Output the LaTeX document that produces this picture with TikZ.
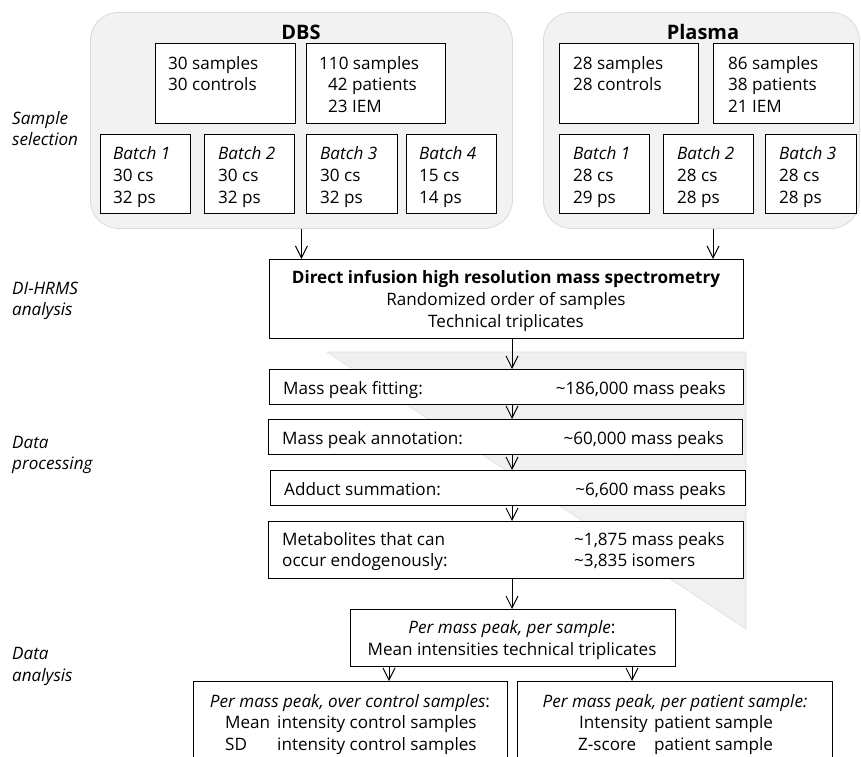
\documentclass[tikz,border=0pt]{standalone}
\usepackage{fontspec}
\setmainfont{Open Sans}
\usetikzlibrary{arrows.meta}
\definecolor{panelfill}{HTML}{F2F2F2}
\definecolor{paneldraw}{HTML}{DADADA}
\definecolor{funnelfill}{HTML}{F0F0F0}
\definecolor{funneldraw}{HTML}{DEDEDE}
\tikzset{
 box/.style={draw=black, line width=1pt, fill=white, inner sep=0pt, anchor=north west},
 panel/.style={draw=paneldraw, fill=panelfill, line width=0.8pt, rounded corners=28pt, inner sep=0pt, anchor=north west},
 txt/.style={inner sep=0pt, anchor=base west, font=\fontsize{17.1}{21.7}\selectfont},
 itxt/.style={txt, font=\fontsize{17.1}{21.7}\selectfont\itshape},
 ctxt/.style={txt, anchor=base},
 rtxt/.style={txt, anchor=base east},
 ttl/.style={inner sep=0pt, anchor=base, font=\fontsize{20}{24}\selectfont\bfseries},
 arr/.style={draw=black, line width=1pt, -{Straight Barb[length=12pt,width=12pt]}},
}
\begin{document}
\begin{tikzpicture}[x=1pt,y=-1pt]
\useasboundingbox (0,0) rectangle (861,756);
% panels
\node[panel, minimum width=422pt, minimum height=216pt] (dbs) at (90,12) {};
\node[panel, minimum width=316pt, minimum height=216pt] (plasma) at (543,12) {};
\node[ttl] (dbst) at (301,39) {DBS};
\node[ttl] (plat) at (703,39) {Plasma};
% DBS boxes
\node[box, minimum width=140pt, minimum height=80pt] (ba) at (155,43) {};
\node[box, minimum width=139pt, minimum height=80pt] (bb) at (306,43) {};
\node[txt] (ba1) at (168,69) {30 samples};
\node[txt] (ba2) at (168,90.5) {30 controls};
\node[txt] (bb1) at (319,69) {110 samples};
\node[txt] (bb2) at (328,90.5) {42 patients};
\node[txt] (bb3) at (328,112) {23 IEM};
\node[box, minimum width=90pt, minimum height=79pt] (d1) at (100,134) {};
\node[box, minimum width=90pt, minimum height=79pt] (d2) at (204,134) {};
\node[box, minimum width=91pt, minimum height=79pt] (d3) at (306,134) {};
\node[box, minimum width=90pt, minimum height=79pt] (d4) at (406,134) {};
\node[itxt] (d1a) at (113,159.5) {Batch 1};
\node[txt] (d1b) at (113,181.5) {30 cs};
\node[txt] (d1c) at (113,203) {32 ps};
\node[itxt] (d2a) at (218,159.5) {Batch 2};
\node[txt] (d2b) at (218,181.5) {30 cs};
\node[txt] (d2c) at (218,203) {32 ps};
\node[itxt] (d3a) at (320,159.5) {Batch 3};
\node[txt] (d3b) at (320,181.5) {30 cs};
\node[txt] (d3c) at (320,203) {32 ps};
\node[itxt] (d4a) at (419,159.5) {Batch 4};
\node[txt] (d4b) at (419,181.5) {15 cs};
\node[txt] (d4c) at (419,203) {14 ps};
% Plasma boxes
\node[box, minimum width=139pt, minimum height=80pt] (pc) at (559,43) {};
\node[box, minimum width=140pt, minimum height=80pt] (pd) at (713,43) {};
\node[txt] (pc1) at (573,69) {28 samples};
\node[txt] (pc2) at (573,90.5) {28 controls};
\node[txt] (pd1) at (728,69) {86 samples};
\node[txt] (pd2) at (728,90.5) {38 patients};
\node[txt] (pd3) at (728,112) {21 IEM};
\node[box, minimum width=90pt, minimum height=79pt] (p1) at (559,134) {};
\node[box, minimum width=90pt, minimum height=79pt] (p2) at (663,134) {};
\node[box, minimum width=91pt, minimum height=79pt] (p3) at (765,134) {};
\node[itxt] (p1a) at (573,159.5) {Batch 1};
\node[txt] (p1b) at (573,181.5) {28 cs};
\node[txt] (p1c) at (573,203) {29 ps};
\node[itxt] (p2a) at (677,159.5) {Batch 2};
\node[txt] (p2b) at (677,181.5) {28 cs};
\node[txt] (p2c) at (677,203) {28 ps};
\node[itxt] (p3a) at (779,159.5) {Batch 3};
\node[txt] (p3b) at (779,181.5) {28 cs};
\node[txt] (p3c) at (779,203) {28 ps};
% left labels
\node[itxt] (l1a) at (12,124) {Sample};
\node[itxt] (l1b) at (12,145) {selection};
\node[itxt] (l2a) at (12,294) {DI-HRMS};
\node[itxt] (l2b) at (12,315) {analysis};
\node[itxt] (l3a) at (12,448) {Data};
\node[itxt] (l3b) at (12,469) {processing};
\node[itxt] (l4a) at (12,659) {Data};
\node[itxt] (l4b) at (12,681) {analysis};
% funnel
\path[fill=funnelfill, draw=funneldraw, line width=0.6pt] (327,352) -- (746,352) -- (746,629) -- cycle;
% DI-HRMS
\node[box, minimum width=474pt, minimum height=79pt] (di) at (269,259) {};
\node[ctxt, font=\fontsize{17.1}{21.7}\selectfont\bfseries] (di1) at (506,283) {Direct infusion high resolution mass spectrometry};
\node[ctxt] (di2) at (506,305) {Randomized order of samples};
\node[ctxt] (di3) at (506,327) {Technical triplicates};
% processing boxes
\node[box, minimum width=474pt, minimum height=35pt] (fit) at (269,369) {};
\node[txt] (fit1) at (283,394) {Mass peak fitting:};
\node[rtxt] (fit2) at (726,394) {\textasciitilde186,000 mass peaks};
\node[box, minimum width=474pt, minimum height=35pt] (ann) at (268,419) {};
\node[txt] (ann1) at (282,444) {Mass peak annotation:};
\node[rtxt] (ann2) at (724,444) {\textasciitilde60,000 mass peaks};
\node[box, minimum width=475pt, minimum height=35pt] (add) at (270,470) {};
\node[txt] (add1) at (284,495) {Adduct summation:};
\node[rtxt] (add2) at (726,495) {\textasciitilde6,600 mass peaks};
\node[box, minimum width=475pt, minimum height=57pt] (met) at (268,521) {};
\node[txt] (met1) at (282,545) {Metabolites that can};
\node[txt] (met2) at (282,566) {occur endogenously:};
\node[txt] (met3) at (574,545) {\textasciitilde1,875 mass peaks};
\node[txt] (met4) at (574,566) {\textasciitilde3,835 isomers};
% analysis boxes
\node[box, minimum width=325pt, minimum height=57pt] (pm) at (350,609) {};
\node[ctxt] (pm1) at (512,633) {\textit{Per mass peak, per sample}:};
\node[ctxt] (pm2) at (512,655) {Mean intensities technical triplicates};
\node[box, minimum width=314pt, minimum height=90pt] (bl) at (193,681) {};
\node[ctxt] (bl1) at (350,707) {\textit{Per mass peak, over control samples}:};
\node[txt] (bl2) at (225,728.5) {Mean};
\node[txt] (bl3) at (277,728.5) {intensity control samples};
\node[txt] (bl4) at (225,750) {SD};
\node[txt] (bl5) at (277,750) {intensity control samples};
\node[box, minimum width=315pt, minimum height=90pt] (br) at (517,681) {};
\node[ctxt] (br1) at (675,707) {\textit{Per mass peak, per patient sample:}};
\node[txt] (br2) at (579,728.5) {Intensity};
\node[txt] (br3) at (654,728.5) {patient sample};
\node[txt] (br4) at (578,750) {Z-score};
\node[txt] (br5) at (654,750) {patient sample};
% connectors
\coordinate (pa) at (713,228);
\coordinate (cx) at (512,0);
\coordinate (lx) at (389,0);
\coordinate (rx) at (632,0);
\draw[arr] (dbs.south) -- (dbs.south |- di.north);
\draw[arr] (plasma.south -| pa) -- (pa |- di.north);
\draw[arr] (di.south -| cx) -- (fit.north -| cx);
\draw[arr] (fit.south -| cx) -- (ann.north -| cx);
\draw[arr] (ann.south -| cx) -- (add.north -| cx);
\draw[arr] (add.south -| cx) -- (met.north -| cx);
\draw[arr] (met.south -| cx) -- (pm.north -| cx);
\draw[arr] (pm.south -| lx) -- (bl.north -| lx);
\draw[arr] (pm.south -| rx) -- (br.north -| rx);
\end{tikzpicture}
\end{document}
